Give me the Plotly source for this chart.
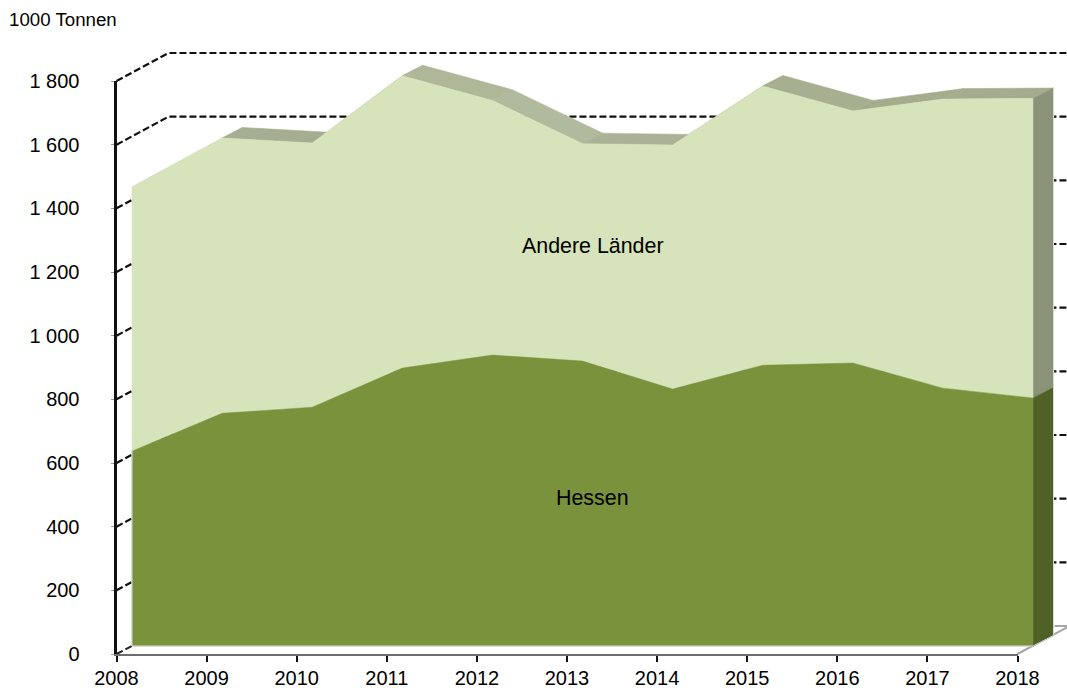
import plotly.graph_objects as go

years = [2008, 2009, 2010, 2011, 2012, 2013, 2014, 2015, 2016, 2017, 2018]
hessen = [612, 731, 750, 873, 914, 895, 807, 882, 889, 810, 779]
andere = [829, 865, 830, 918, 800, 683, 767, 877, 792, 908, 941]
y_ticks = [0, 200, 400, 600, 800, 1000, 1200, 1400, 1600, 1800]
y_labels = ["0", "200", "400", "600", "800", "1 000", "1 200", "1 400", "1 600", "1 800"]
top_shades = ["#a9b294", "#a5ae91", "#a9b294", "#aeb798", "#b0ba9c", "#a9b296",
              "#a9b294", "#a6af90", "#a3ad8d", "#a3ad8d"]

W, H = 1067, 693
X0, PX_YEAR = 116.5, 90.1
Y0, PX_UNIT = 654.0, 573 / 1800
# projection offsets in pixels, turned into data units by the helpers below
FRONT = (15.5, 8.0)
DEPTH = (20.5, 10.5)
WALL = (52.0, 28.0)
dx = lambda px: px / PX_YEAR
dy = lambda px: px / PX_UNIT
total = [a + b for a, b in zip(hessen, andere)]
fx = [v + dx(FRONT[0]) for v in years]
shift = dy(FRONT[1])
c_hessen = [v + shift for v in hessen]
c_total = [v + shift for v in total]
base = shift

fig = go.Figure()

def add(xs, ys, **kw):
    fig.add_trace(go.Scatter(x=xs, y=ys, xaxis="x", yaxis="y", hoverinfo="skip",
                             showlegend=False, **kw))

def poly(xs, ys, color):
    add(xs, ys, mode="lines", fill="toself", fillcolor=color,
        line=dict(width=0.5, color=color))

# back wall dashed gridlines
gx, gy = [], []
x_end = years[-1] + dx(WALL[0])
for t in y_ticks[1:]:
    gx += [years[0], years[0] + dx(WALL[0]), x_end, None]
    gy += [t, t + dy(WALL[1]), t + dy(WALL[1]), None]
add(gx, gy, mode="lines", line=dict(color="#111111", width=2.2, dash="7px,3px"))

# floor
add([years[0], years[0] + dx(FRONT[0])], [0, dy(FRONT[1])], mode="lines",
    line=dict(color="#222222", width=2, dash="7px,3px"))
add([years[-1], years[-1] + dx(WALL[0]), years[-1] + dx(37)],
    [0, dy(WALL[1]), dy(WALL[1])], mode="lines", line=dict(color="#a6a6a6", width=2))

ddx, ddy = dx(DEPTH[0]), dy(DEPTH[1])

# top faces of the upper layer
for i in range(len(years) - 1):
    poly([fx[i], fx[i + 1], fx[i + 1] + ddx, fx[i] + ddx, fx[i]],
         [c_total[i], c_total[i + 1], c_total[i + 1] + ddy, c_total[i] + ddy, c_total[i]],
         top_shades[i])

# side faces
sx = [fx[-1], fx[-1] + ddx, fx[-1] + ddx, fx[-1], fx[-1]]
poly(sx, [c_hessen[-1], c_hessen[-1] + ddy, c_total[-1] + ddy, c_total[-1], c_hessen[-1]], "#8a9377")
poly(sx, [base, base + ddy, c_hessen[-1] + ddy, c_hessen[-1], base], "#4f6126")
add([fx[-1], fx[-1] + ddx, fx[-1] + ddx], [base, base + ddy, c_total[-1] + ddy], mode="lines",
    line=dict(color="#d9d9d9", width=1))

# front faces
poly(fx + fx[::-1] + [fx[0]], c_total + c_hessen[::-1] + [c_total[0]], "#d6e3bb")
poly(fx + [fx[-1], fx[0], fx[0]], c_hessen + [base, base, c_hessen[0]], "#7a923c")
add([fx[0], fx[0], fx[-1]], [c_hessen[0], base, base], mode="lines",
    line=dict(color="#d9d9d9", width=1))

# visible axes, on their own subplot on top of the marks
fig.add_trace(go.Scatter(x=years, y=total, xaxis="x2", yaxis="y2", mode="markers",
                         marker=dict(opacity=0), hoverinfo="skip", showlegend=False))

fig.update_layout(
    width=W, height=H, margin=dict(l=0, r=0, t=0, b=0),
    paper_bgcolor="white", plot_bgcolor="rgba(0,0,0,0)", showlegend=False,
    font=dict(family="Liberation Sans, Arial, sans-serif", color="#000000"),
    xaxis=dict(domain=[0, 1], anchor="y", visible=False,
               range=[years[0] - X0 / PX_YEAR, years[0] + (W - X0) / PX_YEAR]),
    yaxis=dict(domain=[0, 1], anchor="x", visible=False,
               range=[(Y0 - H) / PX_UNIT, Y0 / PX_UNIT]),
    xaxis2=dict(domain=[X0 / W, (X0 + 10 * PX_YEAR) / W], range=[years[0], years[-1]],
                tickmode="array", tickvals=years, ticktext=[str(v) for v in years],
                ticks="outside", ticklen=6, tickwidth=2, tickcolor="#111111",
                showline=True, linecolor="#6e6e6e", linewidth=2, showgrid=False, zeroline=False,
                tickfont=dict(size=20), ticklabelstandoff=-1, anchor="y2", automargin=False),
    yaxis2=dict(domain=[(H - Y0) / H, (H - Y0 + 1800 * PX_UNIT) / H], range=[0, 1800],
                tickmode="array", tickvals=y_ticks, ticktext=y_labels,
                ticks="outside", ticklen=3, tickwidth=1, tickcolor="#999999",
                showline=True, linecolor="#111111", linewidth=3, showgrid=False, zeroline=False,
                tickfont=dict(size=20), ticklabelstandoff=27, anchor="x2", automargin=False),
    annotations=[
        dict(text="1000 Tonnen", xref="paper", yref="paper", x=7 / W, y=1 - 19 / H,
             xanchor="left", yanchor="middle", showarrow=False, font=dict(size=18.7)),
        dict(text="Andere Länder", xref="paper", yref="paper", x=592.5 / W, y=1 - 246 / H,
             xanchor="center", yanchor="middle", showarrow=False, font=dict(size=21.4)),
        dict(text="Hessen", xref="paper", yref="paper", x=592.5 / W, y=1 - 498 / H,
             xanchor="center", yanchor="middle", showarrow=False, font=dict(size=21.4)),
    ],
)

fig.write_html("out.html", config=dict(displayModeBar=False),
               post_script="document.body.style.margin='0';document.body.style.overflow='hidden';")
